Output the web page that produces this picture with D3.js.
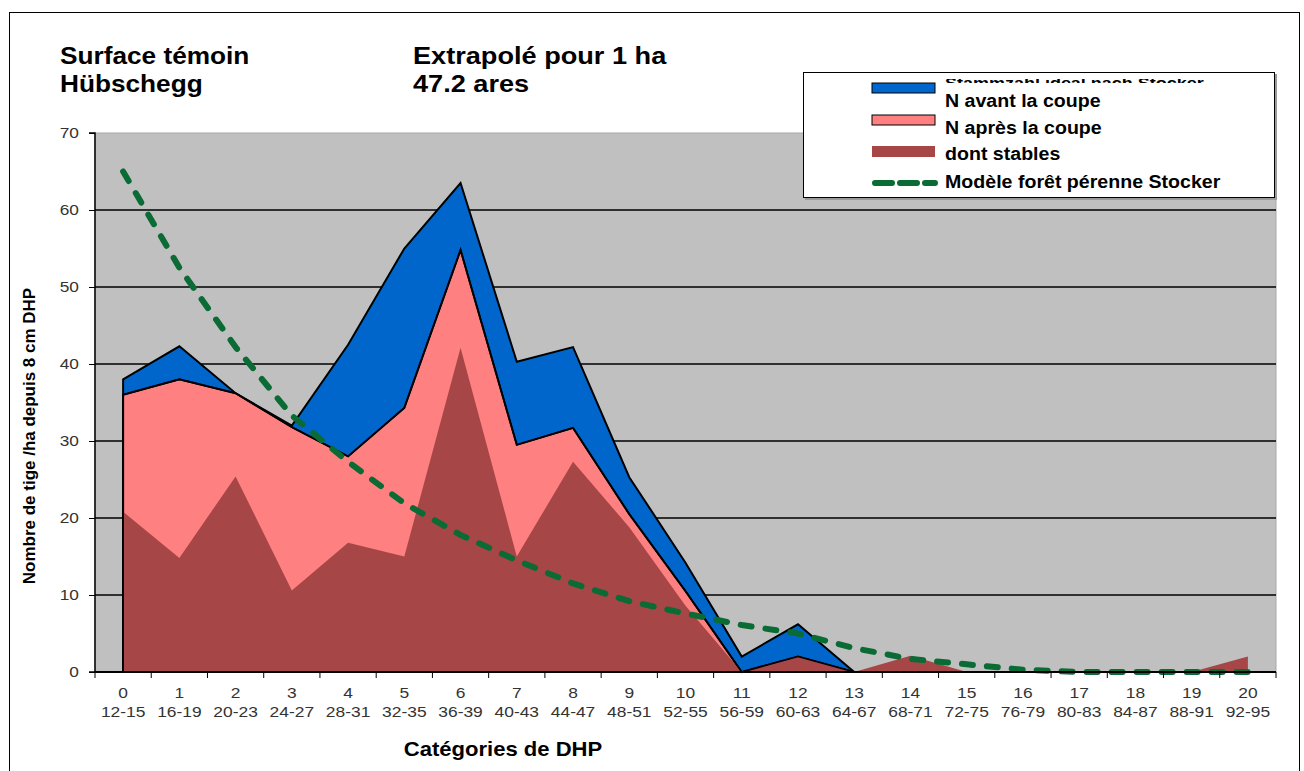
<!DOCTYPE html>
<html>
<head>
<meta charset="utf-8">
<script src="https://cdn.jsdelivr.net/npm/d3@7"></script>
<style>
  html, body { margin: 0; padding: 0; background: #fff; }
  svg { display: block; }
  text { font-family: "Liberation Sans", Arial, sans-serif; }
</style>
</head>
<body>
<svg id="chart" width="1304" height="771"></svg>
<script>
// ---------- data ----------
const categories = ["0","1","2","3","4","5","6","7","8","9","10","11","12","13","14","15","16","17","18","19","20"];
const rangeLabels = ["12-15","16-19","20-23","24-27","28-31","32-35","36-39","40-43","44-47","48-51","52-55","56-59","60-63","64-67","68-71","72-75","76-79","80-83","84-87","88-91","92-95"];
const nAvant   = [38, 42.3, 36.2, 32, 42.5, 55, 63.5, 40.3, 42.2, 25.3, 14.2, 2, 6.2, 0, 0, 0, 0, 0, 0, 0, 0];
const nApres   = [36, 38, 36.2, 31.8, 28, 34.3, 54.8, 29.5, 31.7, 20.5, 10.5, 0, 2, 0, 0, 0, 0, 0, 0, 0, 0];
const stables  = [20.8, 14.8, 25.4, 10.6, 16.8, 15, 42.1, 15, 27.3, 18.8, 8.6, 0, 2, 0, 2.1, 0, 0, 0, 0, 0, 2];
const stocker  = [65, 52.5, 42.2, 33.3, 27.3, 21.9, 17.8, 14.5, 11.5, 9.2, 7.6, 6.1, 5.0, 3.1, 1.7, 1.0, 0.3, 0, 0, 0, 0];
const yTicks   = [0, 10, 20, 30, 40, 50, 60, 70];
const legendLabels = ["N avant la coupe", "N après la coupe", "dont stables", "Modèle forêt pérenne Stocker"];

// ---------- layout ----------
const svg = d3.select("#chart");
const plot = { left: 95, right: 1276, top: 133, bottom: 672 };
const colors = { blue: "#0066cc", pink: "#ff8080", red: "#a64646", green: "#0a6b35", bg: "#c0c0c0" };

const x = d3.scaleBand().domain(categories).range([plot.left, plot.right]).paddingInner(0).paddingOuter(0);
const xc = c => x(c) + x.bandwidth() / 2;
const y = d3.scaleLinear().domain([0, 70]).range([plot.bottom, plot.top]);

function addText(px, py, str, opt) {
  const o = Object.assign({ size: 14, weight: "normal", anchor: "start", sx: 1, fill: "#000", rotate: 0 }, opt || {});
  const g = svg.append("g").attr("transform", `translate(${px},${py}) rotate(${o.rotate}) scale(${o.sx},1)`);
  g.append("text").attr("x", 0).attr("y", 0)
    .attr("font-size", o.size).attr("font-weight", o.weight)
    .attr("text-anchor", o.anchor).attr("fill", o.fill).text(str);
  return g;
}

// outer border
svg.append("rect").attr("x", 9.5).attr("y", 12.5).attr("width", 1290).attr("height", 800)
  .attr("fill", "#fff").attr("stroke", "#000").attr("stroke-width", 1);

// plot background
svg.append("rect").attr("x", plot.left).attr("y", plot.top)
  .attr("width", plot.right - plot.left).attr("height", plot.bottom - plot.top)
  .attr("fill", colors.bg).attr("stroke", "#a8a8a8").attr("stroke-width", 1);

// gridlines
svg.append("g").selectAll("line").data(yTicks.filter(v => v > 0 && v < 70)).join("line")
  .attr("x1", plot.left).attr("x2", plot.right)
  .attr("y1", d => y(d)).attr("y2", d => y(d))
  .attr("stroke", "#000").attr("stroke-width", 1.5);

// areas
const areaGen = vals => d3.area()
  .x((d, i) => xc(categories[i]))
  .y0(y(0)).y1(d => y(d))(vals);

svg.append("path").attr("d", areaGen(nAvant))
  .attr("fill", colors.blue).attr("stroke", "#000").attr("stroke-width", 2).attr("stroke-linejoin", "miter");
svg.append("path").attr("d", areaGen(nApres))
  .attr("fill", colors.pink).attr("stroke", "#000").attr("stroke-width", 2).attr("stroke-linejoin", "miter");
svg.append("path").attr("d", areaGen(stables))
  .attr("fill", colors.red).attr("stroke", "none");
// pink outline visible on top (Excel style border)
svg.append("path").attr("d", areaGen(nApres))
  .attr("fill", "none").attr("stroke", "#000").attr("stroke-width", 1.6).attr("stroke-linejoin", "miter");

// stocker model line
const lineGen = d3.line().x((d, i) => xc(categories[i])).y(d => y(d));
svg.append("path").attr("d", lineGen(stocker))
  .attr("fill", "none").attr("stroke", colors.green).attr("stroke-width", 6)
  .attr("stroke-dasharray", "11,14").attr("stroke-linecap", "round").attr("stroke-linejoin", "round");

// y axis
const yAxis = d3.axisLeft(y).tickValues(yTicks).tickSize(6).tickPadding(8);
const gy = svg.append("g").attr("transform", `translate(${plot.left},0)`).call(yAxis);
gy.select(".domain").attr("stroke", "#000").attr("stroke-width", 1.5).attr("d", `M-6,${plot.top}H0V${plot.bottom}H-6`);
gy.selectAll(".tick line").attr("stroke", "#000");
gy.selectAll(".tick text").attr("font-family", "'Liberation Sans', Arial, sans-serif")
  .attr("font-size", 15).attr("fill", "#333").attr("transform", "scale(1.15,1)");

// x axis line + boundary ticks
svg.append("line").attr("x1", plot.left).attr("x2", plot.right)
  .attr("y1", y(0)).attr("y2", y(0)).attr("stroke", "#000").attr("stroke-width", 2);
const bounds = categories.map(c => x(c)).concat([x(categories[categories.length - 1]) + x.bandwidth()]);
svg.append("g").selectAll("line").data(bounds).join("line")
  .attr("x1", d => d).attr("x2", d => d)
  .attr("y1", y(0)).attr("y2", y(0) + 6)
  .attr("stroke", "#000").attr("stroke-width", 1);

// x labels
categories.forEach((c, i) => {
  addText(xc(c), 698, c, { size: 14.5, anchor: "middle", sx: 1.2, fill: "#333" });
  addText(xc(c), 717, rangeLabels[i], { size: 14.5, anchor: "middle", sx: 1.2, fill: "#333" });
});

// axis titles
addText(503, 756, "Catégories de DHP", { size: 21, weight: "bold", anchor: "middle", sx: 1.05 });
addText(35, 436, "Nombre de tige /ha depuis 8 cm DHP", { size: 16.5, weight: "bold", anchor: "middle", rotate: -90, sx: 1.03 });

// header texts
addText(60, 64, "Surface témoin", { size: 23, weight: "bold", sx: 1.14 });
addText(60, 92, "Hübschegg", { size: 23, weight: "bold", sx: 1.14 });
addText(413, 64, "Extrapolé pour 1 ha", { size: 23, weight: "bold", sx: 1.18 });
addText(413, 92, "47.2 ares", { size: 23, weight: "bold", sx: 1.18 });

// legend
const lg = { x: 803, y: 72, w: 471, h: 125 };
svg.append("rect").attr("x", lg.x + 2).attr("y", lg.y + 2).attr("width", lg.w + 1).attr("height", lg.h + 1).attr("fill", "#9a9a9a");
svg.append("rect").attr("x", lg.x + 0.5).attr("y", lg.y + 0.5).attr("width", lg.w).attr("height", lg.h)
  .attr("fill", "#fff").attr("stroke", "#000").attr("stroke-width", 1);

// clipped (partially hidden) first legend line
svg.append("clipPath").attr("id", "lgclip").append("rect")
  .attr("x", lg.x).attr("y", 79).attr("width", lg.w).attr("height", 4);
const hidden = svg.append("g").attr("clip-path", "url(#lgclip)");
hidden.append("g").attr("transform", "translate(945,88) scale(1.2,1)")
  .append("text").attr("font-size", 15).attr("font-weight", "bold").text("Stammzahl ideal nach Stocker");

const swX = 872, swW = 63;
svg.append("rect").attr("x", swX).attr("y", 83).attr("width", swW).attr("height", 10)
  .attr("fill", colors.blue).attr("stroke", "#000").attr("stroke-width", 1);
svg.append("rect").attr("x", swX).attr("y", 115).attr("width", swW).attr("height", 10)
  .attr("fill", colors.pink).attr("stroke", "#000").attr("stroke-width", 1);
svg.append("rect").attr("x", swX).attr("y", 146).attr("width", swW).attr("height", 11)
  .attr("fill", colors.red);
svg.append("line").attr("x1", swX + 3).attr("x2", swX + swW).attr("y1", 183).attr("y2", 183)
  .attr("stroke", colors.green).attr("stroke-width", 6)
  .attr("stroke-dasharray", "17,8").attr("stroke-linecap", "round");

const lgY = [107, 134, 160, 188];
legendLabels.forEach((t, i) => addText(945, lgY[i], t, { size: 17.5, weight: "bold", sx: 1.12 }));
</script>
</body>
</html>
